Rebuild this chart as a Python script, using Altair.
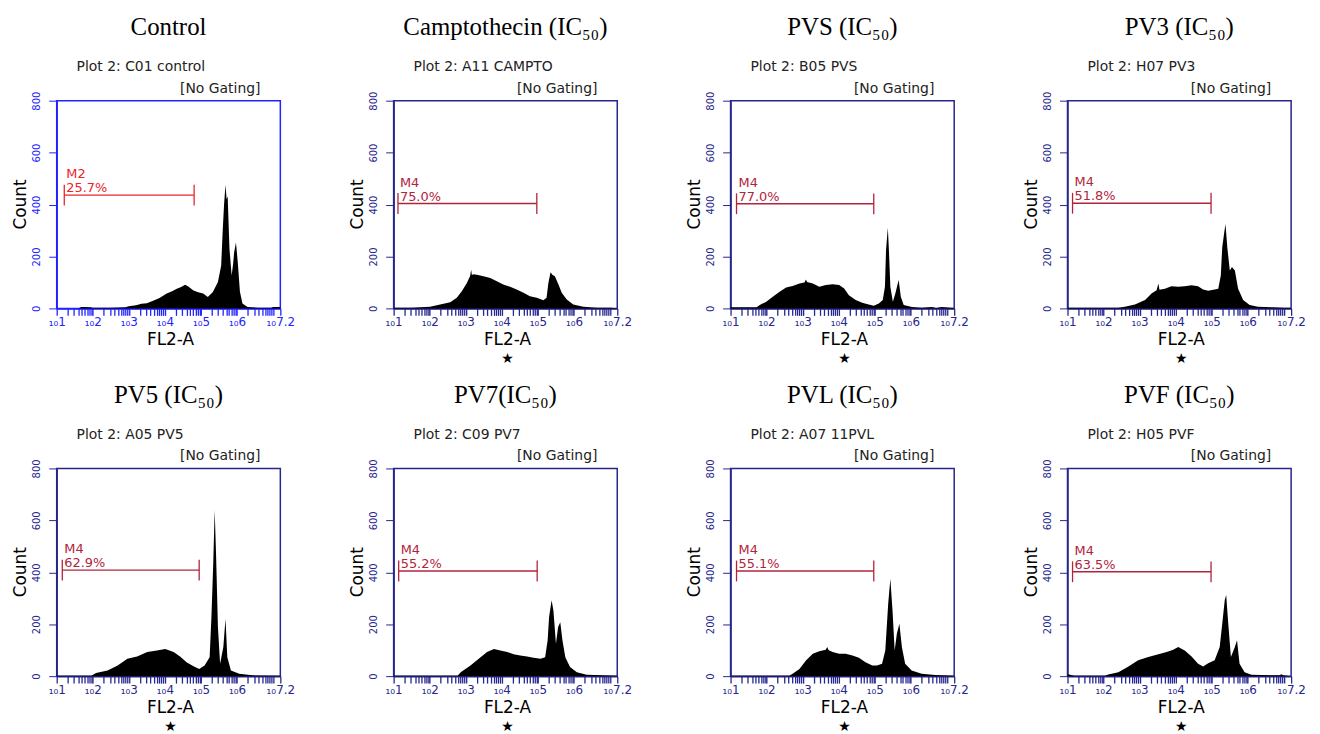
import altair as alt
import pandas as pd

# ---------------- data ----------------
titles = ["Control", "Camptothecin (IC₅₀)", "PVS (IC₅₀)", "PV3 (IC₅₀)",
          "PV5 (IC₅₀)", "PV7(IC₅₀)", "PVL (IC₅₀)", "PVF (IC₅₀)"]
plot_names = ["Plot 2: C01 control", "Plot 2: A11 CAMPTO", "Plot 2: B05 PVS", "Plot 2: H07 PV3",
              "Plot 2: A05 PV5", "Plot 2: C09 PV7", "Plot 2: A07 11PVL", "Plot 2: H05 PVF"]
marker_names = ["M2", "M4", "M4", "M4", "M4", "M4", "M4", "M4"]
marker_pct = ["25.7%", "75.0%", "77.0%", "51.8%", "62.9%", "55.2%", "55.1%", "63.5%"]
marker_start = [1.21, 1.12, 1.165, 1.14, 1.155, 1.14, 1.165, 1.14]   # log10 FL2-A
marker_end = [4.81, 4.97, 4.97, 4.98, 4.95, 4.98, 4.97, 4.98]
marker_level = [436, 404, 403, 405, 408, 405, 405, 402]
starred = [False, True, True, True, True, True, True, True]

# histograms: log10(FL2-A) positions and counts
ctrl_x = [1.0, 1.6, 1.68, 1.75, 1.95, 2.0, 2.5, 2.9, 3.0, 3.2, 3.35, 3.5, 3.69, 3.85, 4.05, 4.2, 4.33, 4.45,
          4.56, 4.65, 4.78, 4.92, 5.06, 5.19, 5.33, 5.47, 5.56, 5.60, 5.64, 5.68, 5.71, 5.74, 5.79, 5.85, 5.89,
          5.92, 5.97, 6.02, 6.08, 6.15, 6.29, 6.6, 6.95, 7.0, 7.15, 7.2]
ctrl_y = [0, 0, 5, 5, 4, 3, 3, 4, 8, 12, 18, 20, 30, 40, 57, 66, 76, 82,
          91, 84, 70, 62, 57, 44, 63, 102, 165, 292, 400, 476, 420, 432, 229, 127, 170,
          216, 254, 178, 64, 19, 5, 3, 3, 5, 5, 5]
campto_x = [1.0, 1.5, 2.01, 2.29, 2.57, 2.75, 2.89, 3.03, 3.12, 3.15, 3.17, 3.2, 3.31, 3.49, 3.68, 3.86, 4.04,
            4.23, 4.41, 4.60, 4.78, 4.97, 5.15, 5.24, 5.29, 5.35, 5.40, 5.47, 5.57, 5.66, 5.80, 5.98, 6.26,
            6.63, 7.04, 7.2]
campto_y = [3, 3, 6, 15, 24, 41, 66, 98, 125, 149, 128, 132, 130, 124, 117, 105, 92,
            83, 73, 60, 47, 41, 31, 41, 98, 139, 130, 124, 92, 60, 34, 15, 6,
            3, 3, 0]
pvs_x = [1.0, 1.72, 1.81, 1.99, 2.17, 2.36, 2.54, 2.72, 2.91, 3.05, 3.09, 3.12, 3.28, 3.46, 3.64, 3.83, 4.01,
         4.15, 4.28, 4.47, 4.65, 4.83, 4.97, 5.11, 5.22, 5.28, 5.31, 5.36, 5.39, 5.43, 5.50, 5.57, 5.66, 5.72,
         5.80, 6.03, 6.30, 6.58, 6.7, 6.85, 7.2]
pvs_y = [4, 4, 13, 26, 45, 64, 81, 86, 96, 100, 111, 102, 96, 83, 90, 93, 90,
         77, 51, 32, 22, 15, 10, 19, 32, 83, 224, 311, 224, 83, 26, 58, 109, 45,
         13, 5, 3, 5, 2, 5, 2]
pv3_x = [1.0, 2.41, 2.59, 2.87, 3.15, 3.33, 3.47, 3.52, 3.55, 3.70, 3.88, 4.07, 4.25, 4.44, 4.62, 4.76, 4.90,
         5.08, 5.18, 5.25, 5.29, 5.34, 5.38, 5.43, 5.50, 5.56, 5.64, 5.73, 5.87, 6.05, 6.28, 6.65, 7.02, 7.2]
pv3_y = [3, 3, 6, 15, 32, 57, 70, 96, 72, 76, 85, 83, 85, 89, 85, 73, 68,
         73, 76, 127, 236, 287, 325, 236, 146, 159, 146, 76, 32, 13, 6, 4, 3, 3]
pv5_x = [1.0, 1.96, 2.09, 2.41, 2.69, 2.96, 3.23, 3.51, 3.78, 4.01, 4.24, 4.42, 4.60, 4.78, 4.95, 5.10, 5.24,
         5.29, 5.34, 5.38, 5.42, 5.47, 5.53, 5.62, 5.68, 5.73, 5.83, 6.06, 6.42, 7.2]
pv5_y = [2, 2, 12, 22, 41, 67, 76, 93, 99, 105, 93, 76, 54, 39, 28, 41, 73,
         228, 433, 639, 459, 189, 48, 112, 221, 73, 22, 9, 3, 2]
pv7_x = [1.0, 2.77, 2.86, 3.13, 3.41, 3.59, 3.78, 3.96, 4.15, 4.33, 4.51, 4.70, 4.88, 5.07, 5.20, 5.27, 5.31,
         5.38, 5.43, 5.50, 5.56, 5.62, 5.68, 5.76, 5.89, 6.08, 6.35, 7.2]
pv7_y = [2, 2, 15, 41, 73, 93, 105, 99, 93, 84, 80, 76, 71, 67, 73, 138, 228,
         292, 253, 125, 189, 208, 138, 73, 35, 15, 5, 2]
pvl_x = [1.0, 2.63, 2.72, 2.91, 3.09, 3.28, 3.46, 3.64, 3.68, 3.72, 3.83, 4.01, 4.19, 4.38, 4.56, 4.74, 4.93,
         5.06, 5.20, 5.29, 5.37, 5.43, 5.49, 5.55, 5.61, 5.68, 5.75, 5.84, 6.02, 6.30, 6.67, 7.2]
pvl_y = [2, 2, 9, 28, 60, 86, 96, 102, 112, 100, 93, 86, 86, 80, 71, 54, 41,
         41, 48, 99, 279, 375, 253, 99, 163, 202, 112, 48, 22, 9, 4, 2]
pvf_x = [1.0, 1.05, 1.12, 1.2, 2.04, 2.13, 2.41, 2.69, 2.96, 3.24, 3.52, 3.75, 3.93, 4.07, 4.25, 4.44, 4.62,
         4.76, 4.90, 5.08, 5.22, 5.29, 5.36, 5.40, 5.45, 5.53, 5.64, 5.70, 5.77, 5.91, 6.10, 6.65, 6.88,
         6.93, 6.98, 7.2]
pvf_y = [5, 6, 3, 2, 2, 6, 15, 37, 61, 74, 84, 93, 102, 112, 99, 76, 48,
         37, 50, 61, 112, 202, 293, 313, 215, 74, 112, 138, 48, 15, 5, 3, 3,
         7, 3, 0]

hist_x = [ctrl_x, campto_x, pvs_x, pv3_x, pv5_x, pv7_x, pvl_x, pvf_x]
hist_y = [ctrl_y, campto_y, pvs_y, pv3_y, pv5_y, pv7_y, pvl_y, pvf_y]

y_ticks = [0, 200, 400, 600, 800]

# ---------------- styling ----------------
W, H = 225, 209
FRAME = ["#2222ff"] + ["#26268e"] * 7
MARK = ["#e8262b"] + ["#b0243c"] * 7
SANS = "DejaVu Sans"
SERIF = "Liberation Serif"

x_tick_vals = [m * 10 ** k for k in range(1, 7) for m in range(1, 10)] + [1e7, 10 ** 7.2]
x_label_expr = (
    "datum.value > 1.5e7 ? '\u2081\u20807.2' : "
    "(abs(log(datum.value)/LN10 - round(log(datum.value)/LN10)) < 0.001 && datum.value < 5e6 ? "
    "'\u2081\u2080' + format(log(datum.value)/LN10, '.0f') : '')"
)


def xenc(field, color):
    return alt.X(field, type="quantitative",
                 scale=alt.Scale(type="log", domain=[10, 10 ** 7.2], nice=False),
                 axis=alt.Axis(values=x_tick_vals, labelExpr=x_label_expr, title=None,
                               tickSize=7, labelPadding=1, labelFontSize=12, labelFont=SANS,
                               labelColor=color, tickColor=color, domainColor=color,
                               labelOverlap=False, labelFlush=False, labelBound=False,
                               grid=False, tickWidth=1.3, domainWidth=1.5))


def yenc(field, color):
    return alt.Y(field, type="quantitative",
                 scale=alt.Scale(domain=[0, 800], nice=False),
                 axis=alt.Axis(values=y_ticks, title=None, labelAngle=270, labelFontSize=10,
                               labelFont=SANS, labelColor=color, tickColor=color, domainColor=color,
                               tickSize=8, labelPadding=7, grid=False, domainWidth=1.5))


def text_layer(txt, x, y, size, font=SANS, color="#222", align="left", baseline="alphabetic", angle=0,
               weight="normal"):
    return alt.Chart(pd.DataFrame({"t": [txt]})).mark_text(
        align=align, baseline=baseline, fontSize=size, font=font, color=color, angle=angle,
        fontWeight=weight
    ).encode(x=alt.value(x), y=alt.value(y), text="t:N")


def panel(i):
    fc, mc = FRAME[i], MARK[i]
    df = pd.DataFrame({"fl": [10 ** v for v in hist_x[i]], "count": hist_y[i]})
    area = alt.Chart(df).mark_area(color="black", interpolate="linear").encode(
        x=xenc("fl", fc), y=yenc("count", fc))

    mdf = pd.DataFrame({"s": [10 ** marker_start[i]], "e": [10 ** marker_end[i]],
                        "lv": [marker_level[i]], "lo": [marker_level[i] - 40], "hi": [marker_level[i] + 40],
                        "name": [marker_names[i]], "pct": [marker_pct[i]]})
    mline = alt.Chart(mdf).mark_rule(color=mc, strokeWidth=1.3).encode(
        x=xenc("s", fc), x2="e:Q", y=yenc("lv", fc))
    mleft = alt.Chart(mdf).mark_rule(color=mc, strokeWidth=1.3).encode(
        x=xenc("s", fc), y=yenc("lo", fc), y2="hi:Q")
    mright = alt.Chart(mdf).mark_rule(color=mc, strokeWidth=1.3).encode(
        x=xenc("e", fc), y=yenc("lo", fc), y2="hi:Q")
    mname = alt.Chart(mdf).mark_text(align="left", baseline="alphabetic", dx=2, dy=-17,
                                     fontSize=13, font=SANS, color=mc).encode(
        x=xenc("s", fc), y=yenc("lv", fc), text="name:N")
    mpct = alt.Chart(mdf).mark_text(align="left", baseline="alphabetic", dx=2, dy=-3,
                                    fontSize=13, font=SANS, color=mc).encode(
        x=xenc("s", fc), y=yenc("lv", fc), text="pct:N")

    layers = [area, mline, mleft, mright, mname, mpct,
              text_layer(titles[i], W / 2, -66, 25, font=SERIF, color="black", align="center"),
              text_layer(plot_names[i], 20, -30, 14),
              text_layer("[No Gating]", W - 20, -8, 14, align="right"),
              text_layer("Count", -36, H / 2, 17, color="black", align="center", baseline="middle",
                         angle=270),
              text_layer("FL2-A", W / 2 + 2, H + 37, 17, color="black", align="center")]
    if starred[i]:
        layers.append(text_layer("\u2605", W / 2 + 2, H + 51, 14, color="black", align="center",
                                 baseline="middle"))
    return alt.layer(*layers).properties(
        width=W, height=H, view=alt.ViewBackground(stroke=fc, strokeWidth=1.5))


chart = alt.concat(*[panel(i) for i in range(8)], columns=4,
                   spacing={"row": 161, "column": 114}, bounds="flush").properties(
    padding={"left": 3, "top": 4, "right": 5, "bottom": 5}
).configure_view(stroke=None)

chart.save("out.html", embed_options={"renderer": "svg", "actions": False})
